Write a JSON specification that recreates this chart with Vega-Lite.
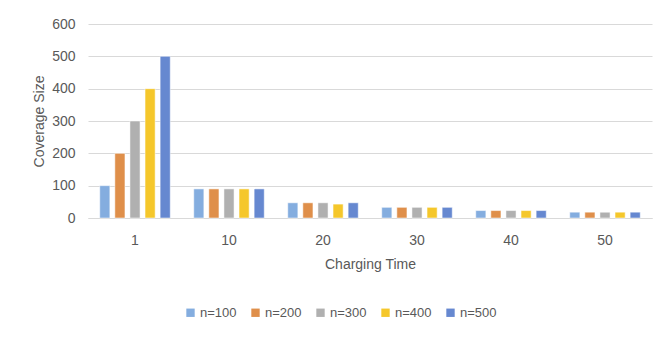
{
  "$schema": "https://vega.github.io/schema/vega-lite/v6.json",
  "autosize": {"type": "none"},
  "width": 564,
  "height": 194,
  "padding": {"left": 88, "top": 24, "right": 13, "bottom": 121},
  "background": "white",
  "data": {"values": [
    {"t": "1", "n": "n=100", "v": 100}, {"t": "1", "n": "n=200", "v": 200}, {"t": "1", "n": "n=300", "v": 300}, {"t": "1", "n": "n=400", "v": 400}, {"t": "1", "n": "n=500", "v": 500},
    {"t": "10", "n": "n=100", "v": 90}, {"t": "10", "n": "n=200", "v": 90}, {"t": "10", "n": "n=300", "v": 90}, {"t": "10", "n": "n=400", "v": 90}, {"t": "10", "n": "n=500", "v": 90},
    {"t": "20", "n": "n=100", "v": 47}, {"t": "20", "n": "n=200", "v": 47}, {"t": "20", "n": "n=300", "v": 47}, {"t": "20", "n": "n=400", "v": 43}, {"t": "20", "n": "n=500", "v": 47},
    {"t": "30", "n": "n=100", "v": 33}, {"t": "30", "n": "n=200", "v": 33}, {"t": "30", "n": "n=300", "v": 33}, {"t": "30", "n": "n=400", "v": 33}, {"t": "30", "n": "n=500", "v": 33},
    {"t": "40", "n": "n=100", "v": 23}, {"t": "40", "n": "n=200", "v": 23}, {"t": "40", "n": "n=300", "v": 23}, {"t": "40", "n": "n=400", "v": 23}, {"t": "40", "n": "n=500", "v": 23},
    {"t": "50", "n": "n=100", "v": 18}, {"t": "50", "n": "n=200", "v": 18}, {"t": "50", "n": "n=300", "v": 18}, {"t": "50", "n": "n=400", "v": 18}, {"t": "50", "n": "n=500", "v": 18}
  ]},
  "mark": {"type": "bar", "stroke": "#ffffff", "strokeOpacity": 0.5, "strokeWidth": 1},
  "encoding": {
    "x": {
      "field": "t", "type": "nominal", "sort": null,
      "scale": {"paddingInner": 0.25, "paddingOuter": 0.125},
      "axis": {"title": "Charging Time", "labelAngle": 0, "ticks": false, "domain": true, "domainColor": "#D9D9D9", "labelPadding": 15, "titlePadding": 10, "labelFontSize": 14, "titleFontSize": 14}
    },
    "xOffset": {"field": "n", "type": "nominal", "sort": null, "scale": {"paddingInner": 0.33, "paddingOuter": 0}},
    "y": {
      "field": "v", "type": "quantitative",
      "scale": {"domain": [0, 600]},
      "axis": {"title": "Coverage Size", "values": [0, 100, 200, 300, 400, 500, 600], "ticks": false, "domain": false, "gridColor": "#D9D9D9", "labelPadding": 13, "titlePadding": 5, "labelFontSize": 14, "titleFontSize": 14}
    },
    "color": {
      "field": "n", "type": "nominal", "sort": null,
      "scale": {"range": ["#84ADDF", "#DF8F4A", "#B0B0B0", "#F5C72B", "#6688D0"]},
      "legend": {"title": null, "orient": "none", "direction": "horizontal", "legendX": 96, "legendY": 282, "symbolType": "square", "symbolSize": 70, "symbolStrokeWidth": 0, "labelFontSize": 13, "columnPadding": 12, "labelOffset": 3}
    }
  },
  "config": {
    "font": "Liberation Sans",
    "view": {"stroke": null},
    "axis": {"labelColor": "#595959", "titleColor": "#595959", "titleFontWeight": "normal", "labelFont": "Liberation Sans", "titleFont": "Liberation Sans"},
    "legend": {"labelColor": "#595959", "labelFont": "Liberation Sans"}
  }
}
